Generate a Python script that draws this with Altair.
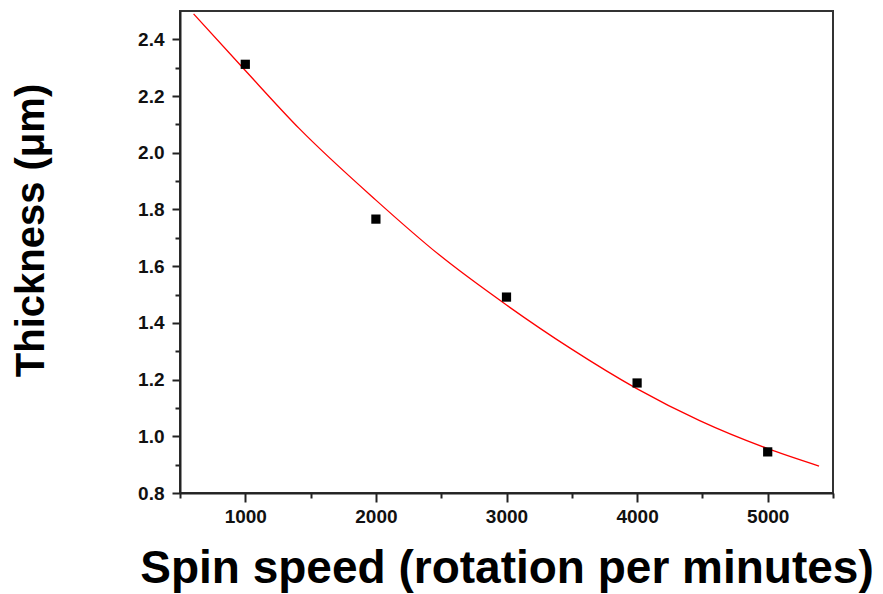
import altair as alt
import pandas as pd

# measured points
speed = [1000, 2000, 3000, 4000, 5000]
thickness = [2.312, 1.766, 1.491, 1.188, 0.945]

# fitted curve
fit_speed = [604, 1000, 1414, 2000, 2487, 3000, 3490, 3994, 4479, 4990, 5393]
fit_thickness = [2.49, 2.29, 2.085, 1.833, 1.639, 1.463, 1.31, 1.169, 1.055, 0.958, 0.895]

x_major = [1000, 2000, 3000, 4000, 5000]
x_minor = [500, 1500, 2500, 3500, 4500, 5500]
y_major = [0.8, 1.0, 1.2, 1.4, 1.6, 1.8, 2.0, 2.2, 2.4]
y_minor = [0.9, 1.1, 1.3, 1.5, 1.7, 1.9, 2.1, 2.3]

pts = pd.DataFrame({"speed": speed, "thickness": thickness})
fit = pd.DataFrame({"speed": fit_speed, "thickness": fit_thickness})

FONT = "Liberation Sans"
xscale = alt.Scale(domain=[500, 5500], nice=False, zero=False)
yscale = alt.Scale(domain=[0.8, 2.5], nice=False, zero=False)

line = alt.Chart(fit).mark_line(color="#ff0000", strokeWidth=1.3, interpolate="monotone", clip=True).encode(
    x=alt.X("speed:Q", scale=xscale,
            axis=alt.Axis(orient="bottom", values=x_major, format="d", tickSize=9,
                          labelPadding=5, title="Spin speed (rotation per minutes)",
                          titleX=326.5, titleY=89, titleAlign="center",
                          titleBaseline="alphabetic", titleFontSize=46)),
    y=alt.Y("thickness:Q", scale=yscale,
            axis=alt.Axis(orient="left", values=y_major, format=".1f", tickSize=8,
                          labelPadding=8, title="Thickness (μm)",
                          titleX=-137, titleY=219, titleAngle=270, titleAlign="center",
                          titleBaseline="alphabetic", titleFontSize=40)),
)

points = alt.Chart(pts).mark_square(color="#000000", size=85, opacity=1).encode(
    x=alt.X("speed:Q", scale=xscale,
            axis=alt.Axis(orient="bottom", values=x_minor, tickSize=5, labels=False,
                          domain=False, title=None)),
    y=alt.Y("thickness:Q", scale=yscale,
            axis=alt.Axis(orient="left", values=y_minor, tickSize=5, labels=False,
                          domain=False, title=None)),
)

chart = (
    alt.layer(line, points)
    .resolve_axis(x="independent", y="independent")
    .properties(
        width=653, height=482,
        autosize=alt.AutoSizeParams(type="none"),
        padding={"left": 172, "top": 3, "right": 42, "bottom": 100},
        background="white",
    )
    .configure_view(stroke="#333333", strokeWidth=2)
    .configure_axis(
        grid=False,
        domainColor="#222222", domainWidth=2,
        tickColor="#222222", tickWidth=2,
        labelFont=FONT, labelFontWeight="bold", labelFontSize=19, labelColor="#111111",
        titleFont=FONT, titleFontWeight="bold", titleColor="#000000",
    )
)

chart.save("out.html", embed_options={"renderer": "svg", "actions": False})
